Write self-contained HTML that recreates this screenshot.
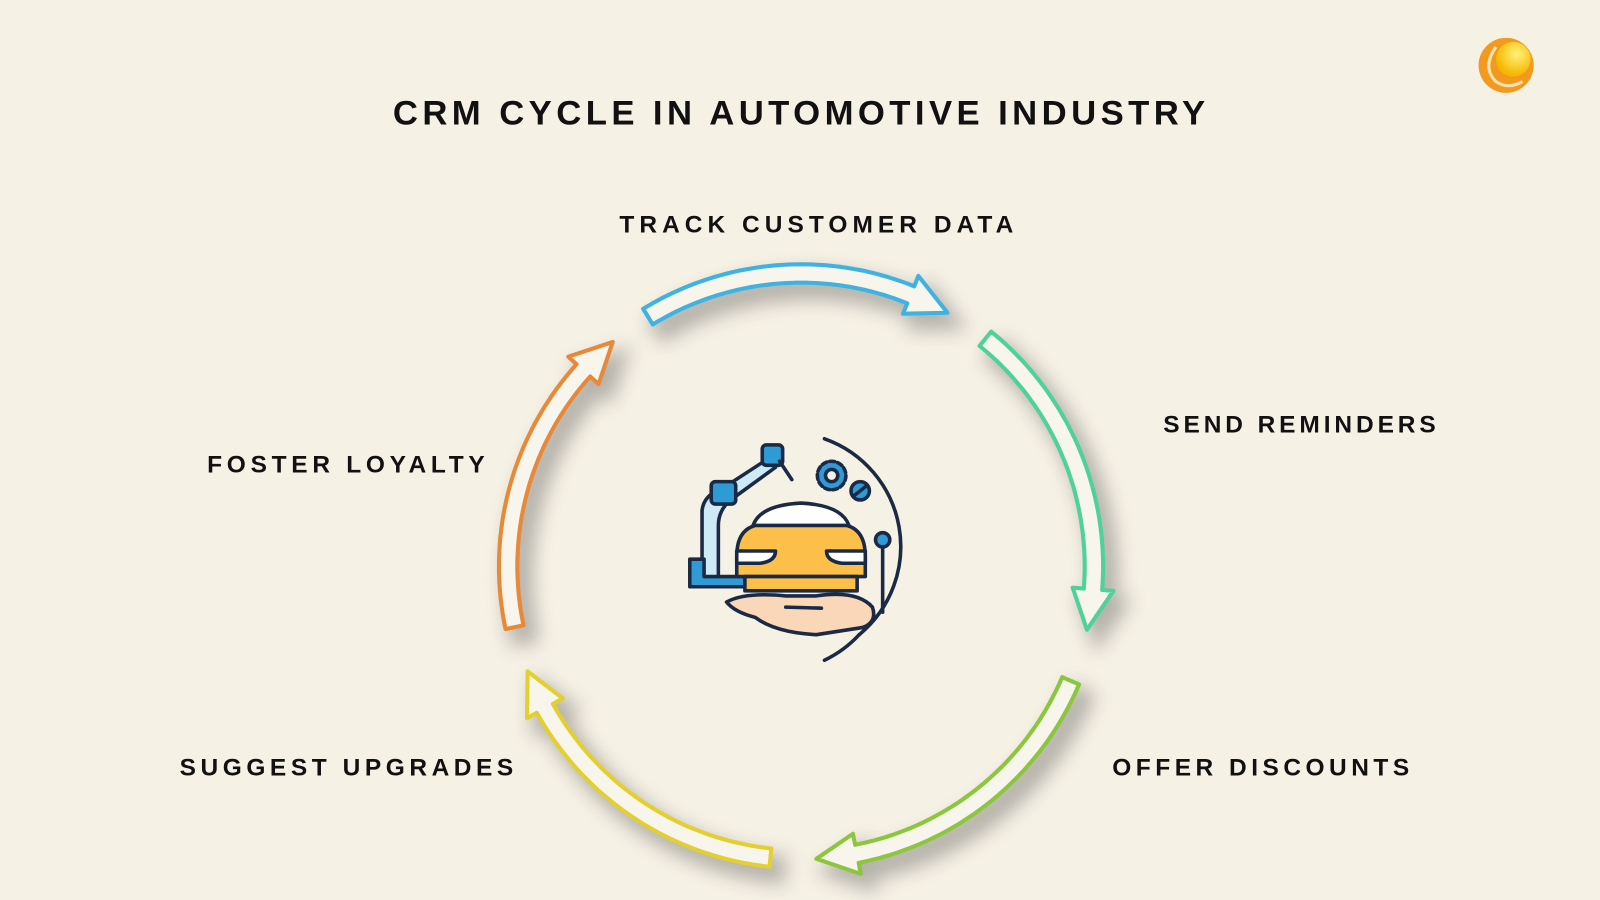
<!DOCTYPE html>
<html><head><meta charset="utf-8"><style>
html,body{margin:0;padding:0;background:#f6f1e5;}
svg{display:block;}
text{font-family:"Liberation Sans",sans-serif;font-weight:bold;fill:#111;}
</style></head><body>
<svg id="s" width="1600" height="900" viewBox="0 0 1568 882" preserveAspectRatio="none" xmlns="http://www.w3.org/2000/svg">
<defs>
<filter id="bl" x="-30%" y="-30%" width="160%" height="160%"><feGaussianBlur stdDeviation="9"/></filter>
<radialGradient id="lg" cx="0.6" cy="0.35" r="0.6"><stop offset="0" stop-color="#fff27a"/><stop offset="1" stop-color="#f5b800"/></radialGradient>
</defs>
<rect width="1568" height="882" fill="#f6f1e5"/>
<g id="shadows" filter="url(#bl)" opacity="0.4"></g>
<g id="arrows"></g>

<text x="385" y="122" font-size="34" textLength="796" lengthAdjust="spacing">CRM CYCLE IN AUTOMOTIVE INDUSTRY</text>
<text x="607" y="228" font-size="24" textLength="386" lengthAdjust="spacing">TRACK CUSTOMER DATA</text>
<text x="1140" y="424" font-size="24" textLength="267" lengthAdjust="spacing">SEND REMINDERS</text>
<text x="203" y="463" font-size="24" textLength="272" lengthAdjust="spacing">FOSTER LOYALTY</text>
<text x="176" y="760" font-size="24" textLength="327" lengthAdjust="spacing">SUGGEST UPGRADES</text>
<text x="1090" y="760" font-size="24" textLength="291" lengthAdjust="spacing">OFFER DISCOUNTS</text>

<!-- logo -->
<circle cx="1476" cy="64" r="27" fill="#f39a1e"/>
<circle cx="1483" cy="58" r="17" fill="url(#lg)"/>
<path d="M1466 46 Q1452 66 1466 80 Q1478 88 1492 80" fill="none" stroke="#f7e3b0" stroke-width="3"/>

<!-- center icon -->
<g stroke="#1b2a44" stroke-width="3.5" stroke-linejoin="round" stroke-linecap="round">
<path d="M808 430 A112 112 0 0 1 842 622" fill="none"/>
<path d="M808 647 A112 112 0 0 0 842 622" fill="none"/>
<path d="M688 570 L688 500 Q690 485 706 480 L752 450 L760 458 L716 490 Q704 500 704 515 L704 570 Z" fill="#cfeaf7"/>
<path d="M676 548 L676 575 L730 575 L730 565 L690 565 L690 548 Z" fill="#2e9ad6"/>
<rect x="697" y="472" width="24" height="22" rx="4" fill="#2e9ad6"/>
<rect x="747" y="436" width="20" height="20" rx="4" fill="#2e9ad6"/>
<path d="M764 452 L776 470" fill="none"/>
<circle cx="815" cy="466" r="14" fill="#2e9ad6" stroke-dasharray="5 3"/>
<circle cx="815" cy="466" r="6" fill="#f6f1e5"/>
<circle cx="843" cy="481" r="9" fill="#2e9ad6"/>
<path d="M838 485 L848 477" fill="none"/>
<path d="M865 530 L865 600" fill="none"/>
<circle cx="865" cy="529" r="7" fill="#2e9ad6"/>
<path d="M738 515 Q745 495 785 493 Q825 495 832 515 Z" fill="#fff"/>
<path d="M722 545 Q722 520 740 515 L830 515 Q848 520 848 545 L848 565 L722 565 Z" fill="#fbbf4a"/>
<path d="M722 540 L760 540 Q760 550 745 552 L722 552 Z" fill="#fff"/>
<path d="M848 540 L810 540 Q810 550 825 552 L848 552 Z" fill="#fff"/>
<rect x="730" y="565" width="110" height="14" fill="#fbbf4a"/>
<path d="M712 590 Q730 580 770 584 L800 584 Q840 578 855 595 Q860 610 845 615 L800 622 Q760 620 740 605 Q720 600 712 590 Z" fill="#f9d7b8"/>
<path d="M770 595 L805 596" fill="none"/>
</g>
</svg>
<script>
(function(){
var cx=785,cy=555,R=287,w=9,h=20,hd=8;
var ar=[[-121.5,-60,"#3fb2e2"],[-51,12.5,"#4fd29a"],[23,87,"#8cc63f"],[96,159,"#e3cf2f"],[168,230,"#e8893a"]];
function pt(a,r){a=a*Math.PI/180;return (cx+r*Math.cos(a)).toFixed(1)+","+(cy+r*Math.sin(a)).toFixed(1);}
var A=document.getElementById("arrows"),S=document.getElementById("shadows");
ar.forEach(function(d){
  var a0=d[0],a1=d[1],ab=a1-hd,p=[];
  for(var a=a0;a<=ab;a+=1)p.push(pt(a,R+w));
  p.push(pt(ab,R+w));p.push(pt(ab,R+h));p.push(pt(a1,R));p.push(pt(ab,R-h));p.push(pt(ab,R-w));
  for(var a=ab;a>=a0;a-=1)p.push(pt(a,R-w));
  p.push(pt(a0,R-w));
  var pts=p.join(" ");
  var sh=document.createElementNS("http://www.w3.org/2000/svg","polygon");
  sh.setAttribute("points",pts);sh.setAttribute("fill","#555");sh.setAttribute("stroke","#555");sh.setAttribute("stroke-width","10");
  sh.setAttribute("transform","translate(10,12)");S.appendChild(sh);
  var pg=document.createElementNS("http://www.w3.org/2000/svg","polygon");
  pg.setAttribute("points",pts);pg.setAttribute("fill","#f8f5ec");pg.setAttribute("stroke",d[2]);pg.setAttribute("stroke-width","4");pg.setAttribute("stroke-linejoin","round");
  A.appendChild(pg);
});
})();
</script>
</body></html>
